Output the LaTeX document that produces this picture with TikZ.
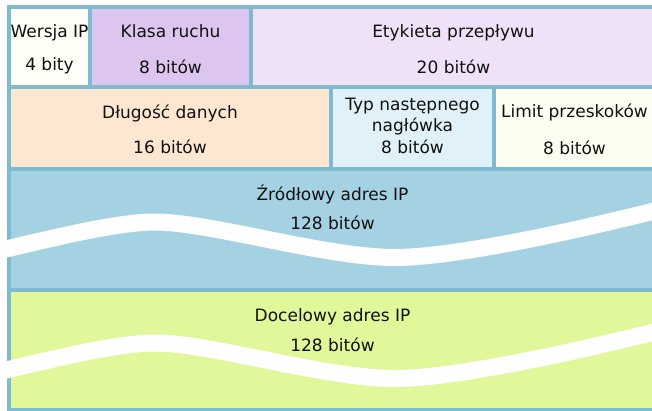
\documentclass[tikz,border=0pt]{standalone}
\usepackage{fontspec}
\setmainfont{DejaVu Sans}
\definecolor{bord}{HTML}{7EBAD0}
\definecolor{cWer}{HTML}{FDFEF6}
\definecolor{cKla}{HTML}{DCC6EF}
\definecolor{cEty}{HTML}{EFE1F8}
\definecolor{cDlu}{HTML}{FEE7D1}
\definecolor{cTyp}{HTML}{E0F1F9}
\definecolor{cLim}{HTML}{FDFDF2}
\definecolor{cSrc}{HTML}{A5D2E2}
\definecolor{cDst}{HTML}{E0F89A}
\definecolor{txt}{HTML}{111111}
\begin{document}
\begin{tikzpicture}[x=1pt,y=-1pt,
  lbl/.style={anchor=base, inner sep=0pt, font=\fontsize{17}{20}\selectfont, text=txt},
  wave/.style={white, line width=17pt}]
\useasboundingbox (0,0) rectangle (652,411);
\clip (0,0) rectangle (652,411);
\fill[bord] (7,5) rectangle (660,416);
% row 1
\fill[cWer] (11,9) rectangle (88,85);
\fill[cKla] (92,9) rectangle (249,85);
\fill[cEty] (253,9) rectangle (654,85);
% row 2
\fill[cDlu] (11,89) rectangle (329,167);
\fill[cTyp] (333,89) rectangle (492,167);
\fill[cLim] (496,89) rectangle (654,167);
% row 3, 4
\fill[cSrc] (11,171) rectangle (654,288);
\fill[cDst] (11,292) rectangle (654,408);
% waves
\foreach \dy in {0,121}{
  \begin{scope}[shift={(0,\dy)}]
  \draw[wave] (-15,254) .. controls (45,240) and (115,222) .. (155,222)
     .. controls (210,222) and (325,257.5) .. (395,257.5)
     .. controls (460,257.5) and (600,225) .. (670,207);
  \end{scope}
}
% texts
\node[lbl] (wer) at (49.5,37.3) {Wersja IP};
\node[lbl] (werb) at (49.5,70.7) {4 bity};
\node[lbl] (kla) at (170.5,37.3) {Klasa ruchu};
\node[lbl] (klab) at (170.5,73.3) {8 bitów};
\node[lbl] (ety) at (453.5,37.3) {Etykieta przepływu};
\node[lbl] (etyb) at (453.5,74) {20 bitów};
\node[lbl] (dlu) at (170,118.3) {Długość danych};
\node[lbl] (dlub) at (170,154) {16 bitów};
\node[lbl] (typ) at (412.5,111) {Typ następnego};
\node[lbl] (typ2) at (412.5,131.7) {nagłówka};
\node[lbl] (typb) at (412.5,153.3) {8 bitów};
\node[lbl] (lim) at (574.5,117.3) {Limit przeskoków};
\node[lbl] (limb) at (574.5,155) {8 bitów};
\node[lbl] (src) at (332.5,200.5) {Źródłowy adres IP};
\node[lbl] (srcb) at (332.5,230) {128 bitów};
\node[lbl] (dst) at (332.5,321.6) {Docelowy adres IP};
\node[lbl] (dstb) at (332.5,351.3) {128 bitów};
\end{tikzpicture}
\end{document}
